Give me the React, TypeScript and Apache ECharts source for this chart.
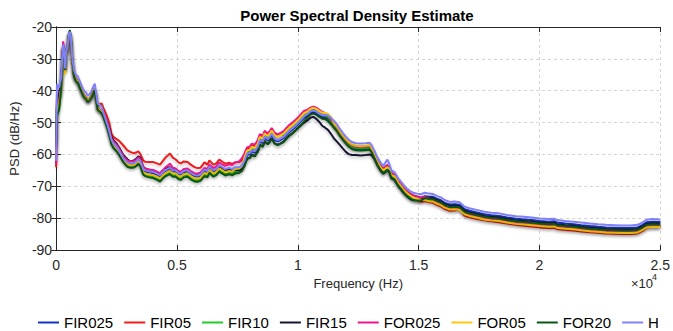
import React, { useEffect, useRef } from "react";
import * as echarts from "echarts";

const FREQ = [
  0, 20, 40, 120, 200, 290, 330, 370, 410, 450, 490, 530, 570, 610, 660,
  740, 820, 900, 980, 1060, 1150, 1230, 1310, 1390, 1470, 1550, 1600, 1640, 1720, 1800, 1880,
  1960, 2050, 2130, 2210, 2290, 2370, 2500, 2620, 2780, 2950, 3070, 3190, 3310, 3400, 3480,
  3600, 3680, 3850, 4010, 4170, 4300, 4420, 4500, 4620, 4710, 4830, 4950, 5070, 5160, 5280, 5440, 5570, 5730, 5850, 5970, 6140, 6260, 6340, 6510, 6630, 6750, 6880, 7000, 7160, 7280, 7410, 7570, 7690,
  7780, 7900, 8020, 8100, 8220, 8350, 8430, 8550, 8630, 8760, 8840, 8920, 9040, 9170, 9290, 9410, 9530, 9660, 9780, 9900, 10030, 10150, 10270,
  10390, 10520, 10640, 10760, 10890, 11010, 11130, 11250, 11380,
  11500, 11620, 11740, 11870, 11990, 12110, 12240, 12400, 12600, 12810, 12970, 13050,
  13180, 13300, 13420, 13540, 13630, 13710, 13790, 13870, 14000, 14080, 14160, 14280, 14400, 14530, 14650, 14770, 14940, 15100,
  15260, 15430, 15590, 15750, 15920, 16080, 16290, 16490, 16700, 16900, 17100, 17390, 17720, 18000, 18330, 18660, 19030, 19360, 19680, 20010, 20380, 20620, 20710, 21070, 21400, 21730, 22100, 22420, 22750, 23120, 23450, 23770, 24060, 24270, 24430, 24680, 25000,
];

const FIR025 = [
  -55, -48, -42, -41, -38, -26, -27.5, -33.5, -28.5, -27.5, -25.5, -22.5, -22, -23.5, -29.5,
  -35, -36.5, -37, -38.5, -40, -41.5, -42, -43, -42.5, -41.5, -40, -39.3, -41.5, -45.5, -46, -46.5,
  -47.8, -49.5, -51.1, -53.3, -55.8, -56.8, -57.9, -59.3, -61.5, -62.8, -63.1, -63.1, -62.6, -61.9, -62.4,
  -64.8, -65.3, -65.6, -65.8, -66.3, -66.8, -65.8, -65.3, -64.8, -64.6, -65.3, -65.3, -66.1, -66.3, -65.5, -65.3, -66.1, -66.8, -66.9, -66.6, -65.1, -65.5, -64.1, -65.3, -64.8, -63.7, -64.3, -64.9, -64.5, -64.9, -64.3, -64.3, -63.8,
  -62.6, -60.2, -59.9, -59, -59.4, -57.9, -55.9, -56.4, -54.8, -55.6, -54.9, -53.9, -55.4, -55.9, -55.4, -54.9, -53.9, -52.9, -52.2, -51.4, -50.4, -49.4, -48.4,
  -47.9, -47, -46.7, -47, -47.7, -48.2, -48.3, -48.8, -49.9,
  -51.2, -52.2, -53.7, -55.1, -56.2, -57.2, -57.9, -58.3, -58.4, -58.3, -58.1, -58.8,
  -61, -63, -64.5, -65.6, -65, -64.6, -65.2, -67, -67.5, -68.5, -69.5, -70.6, -71.8, -72.8, -73.4, -73.8, -73.8, -73.7,
  -73.1, -73.3, -73.3, -73.9, -74.4, -75.2, -75.7, -75.6, -75.8, -77.2, -77.7, -78.2, -78.8, -79.1, -79.3, -79.8, -80.2, -80.4, -80.6, -80.9, -81.1, -81, -81.4, -81.7, -81.9, -82.2, -82.5, -82.7, -82.9, -83, -83.1, -83.1, -82.9, -82.1, -81.3, -81.1, -81.2,
];

const FIR05 = [
  -64, -52, -46, -43, -40, -26.5, -28, -33.5, -28.5, -27.5, -25.5, -22.5, -22, -23.5, -30,
  -34.8, -36.4, -37, -38.5, -40, -41.5, -42, -43, -42.5, -41.5, -40, -39.3, -41, -44.5, -44.2, -44,
  -45.5, -47, -48.5, -50.5, -53.5, -54.5, -55.2, -55.8, -57.2, -58.7, -59.2, -59.6, -59.4, -59, -59.8,
  -61.8, -62.3, -62.4, -62.4, -62.8, -63.2, -62, -61.2, -60.3, -59.7, -61, -61.6, -62.5, -62.8, -62.2, -62.4, -63.2, -64, -64.3, -64.2, -62.5, -63.2, -61.9, -63.2, -62.8, -61.6, -62.3, -62.9, -62.6, -63, -62.5, -62.4, -61.8,
  -60.5, -58.3, -58, -57.2, -57.5, -56, -54.2, -54.6, -53, -53.8, -53.1, -52.1, -53.6, -54.1, -53.6, -53.1, -52.1, -51.1, -50.4, -49.6, -48.6, -47.6, -46.7,
  -46.4, -45.5, -45.2, -45.6, -46.3, -47, -47.4, -48.2, -49.3,
  -50.7, -51.7, -53.2, -54.5, -55.6, -56.6, -57.3, -57.7, -57.8, -57.7, -57.5, -58.2,
  -60.2, -62.2, -63.7, -64.8, -64.2, -63.8, -64.5, -66.3, -66.8, -67.8, -68.8, -69.9, -71.1, -72.1, -72.8, -73.8, -74.4, -74.9,
  -74.6, -75, -75.2, -75.8, -76.3, -77.1, -77.7, -77.6, -77.1, -79.2, -79.7, -80.2, -80.7, -81, -81.3, -81.7, -82.1, -82.4, -82.6, -82.9, -83.1, -83, -83.4, -83.7, -83.9, -84.2, -84.4, -84.6, -84.8, -84.9, -85, -85, -84.8, -84, -83, -82.7, -82.8,
];

const FIR10 = [
  -60, -50, -47.5, -46, -40, -26, -27.5, -33.5, -28.5, -27.5, -25.5, -22, -21.8, -23.5, -29.5,
  -35.2, -36.7, -37.2, -38.7, -40.2, -41.7, -42.2, -43.2, -42.7, -41.7, -40.2, -39.5, -41.7, -45.7, -46.2, -46.7,
  -48, -50, -51.8, -54, -56.5, -57.5, -58.6, -60, -62.2, -63.5, -63.8, -63.8, -63.3, -62.5, -63,
  -66, -66.5, -66.8, -67, -67.5, -68, -67, -66.5, -66, -65.7, -66.5, -66.5, -67.3, -67.5, -66.7, -66.5, -67.3, -68, -68.1, -67.8, -66.3, -66.7, -65.3, -66.5, -66, -64.9, -65.5, -66.1, -65.7, -66.1, -65.5, -65.3, -64.5,
  -62, -59.4, -59.1, -58.2, -58.6, -57.1, -55.1, -55.6, -54, -54.8, -54.1, -53.1, -54.3, -54, -53.4, -54, -53.1, -52.1, -51.4, -50.6, -49.6, -48.6, -47.6,
  -47.1, -46.2, -45.9, -46.2, -46.9, -47.6, -47.8, -48.4, -49.6,
  -51, -52, -53.5, -54.8, -55.9, -56.9, -57.6, -58, -58.1, -58, -57.8, -58.5,
  -60.8, -62.8, -64.3, -65.4, -64.8, -64.4, -65, -66.8, -67.3, -68.3, -69.3, -70.4, -71.6, -72.6, -73.3, -73.8, -74.1, -74.3,
  -73.9, -74.2, -74.3, -74.9, -75.4, -76.2, -76.8, -76.7, -76.9, -78.3, -78.8, -79.3, -79.9, -80.2, -80.4, -80.9, -81.3, -81.5, -81.7, -82, -82.2, -82.1, -82.5, -82.8, -83, -83.3, -83.6, -83.8, -84, -84.1, -84.2, -84.2, -84, -83.2, -82.4, -82.2, -82.3,
];

const FIR15 = [
  -58, -49, -44, -42, -39, -26, -27.5, -33.5, -28.5, -27.5, -25.5, -22.5, -22, -23.5, -29.5,
  -35.3, -36.8, -37.3, -38.8, -40.3, -41.8, -42.3, -43.3, -42.8, -41.8, -40.3, -39.6, -41.8, -45.8, -46.3, -46.8,
  -47.5, -49, -50.3, -52.2, -54.5, -55.5, -56.6, -58, -60.2, -61.5, -62.2, -62, -61.4, -60.6, -61,
  -63.9, -64.4, -64.8, -65, -65.6, -66.1, -65.1, -64.7, -64.2, -64, -64.8, -64.8, -65.6, -65.8, -65.1, -64.9, -65.7, -66.4, -66.5, -66.2, -64.8, -65.2, -63.9, -65.1, -64.7, -63.7, -64.4, -65.1, -64.8, -65.3, -64.8, -65, -64.7,
  -63.6, -61.3, -61, -60.1, -60.5, -59, -57, -57.5, -55.9, -56.7, -56, -55, -56.5, -57, -56.5, -56, -55, -54, -53.3, -52.5, -51.5, -50.8, -50,
  -49.4, -48.5, -48.2, -48.8, -49.8, -51, -51.6, -52.3, -53.6,
  -55, -56, -57, -58.2, -59.2, -59.9, -60.2, -60.2, -60.3, -60.2, -60, -60.2,
  -61.5, -63.5, -65, -66.1, -65.5, -64.9, -65.5, -67.5, -68, -69, -70, -71.1, -72.3, -73.3, -74, -74.4, -74.4, -74.2,
  -73.4, -73.6, -73.7, -74.3, -74.8, -75.6, -76.2, -76.1, -76.3, -77.7, -78.2, -78.7, -79.3, -79.6, -79.8, -80.3, -80.7, -80.9, -81.1, -81.4, -81.6, -81.5, -81.9, -82.2, -82.4, -82.7, -83, -83.2, -83.4, -83.5, -83.6, -83.6, -83.4, -82.6, -81.8, -81.6, -81.7,
];

const FOR025 = [
  -63, -52, -45, -43, -39, -24.5, -26.5, -33.5, -28.5, -27.5, -25.5, -22.5, -22, -23.5, -30,
  -35.1, -36.6, -37.1, -38.6, -40.1, -41.6, -42.1, -43.5, -43, -41.8, -40.1, -39.4, -41.6, -45.6, -46, -46.3,
  -46.8, -48.5, -50.2, -52.4, -54.9, -55.9, -57, -58.4, -60.6, -61.9, -62.2, -62.2, -61.7, -60.9, -61.4,
  -63.9, -64.4, -64.7, -64.9, -65.4, -65.9, -64.9, -64.2, -63.5, -62.9, -64.2, -64.4, -65.2, -65.4, -64.6, -64.4, -65.2, -65.9, -66, -65.7, -64.2, -64.6, -63.2, -64.3, -63.7, -62.6, -63.1, -63.6, -63.1, -63.3, -62.5, -62.2, -61.2,
  -60, -57.8, -57.5, -56.6, -57, -55.5, -53.6, -54.2, -52.6, -53.4, -52.7, -51.7, -53.2, -53.7, -53.2, -52.7, -51.7, -50.7, -50, -49.2, -48.2, -47.2, -46.3,
  -46, -45.3, -45, -45.3, -46, -46.7, -47, -47.6, -49,
  -50.5, -51.5, -53, -54.3, -55.4, -56.4, -57.1, -57.5, -57.6, -57.5, -57.3, -58,
  -59.8, -61.8, -63.3, -64.4, -63.8, -63.3, -64, -65.8, -66.3, -67.3, -68.3, -69.4, -70.6, -71.6, -72.3, -72.8, -73.2, -73.5,
  -73.3, -73.8, -74.1, -74.9, -75.5, -76.3, -77, -76.9, -77.1, -78.5, -79, -79.5, -80.1, -80.4, -80.6, -81.1, -81.5, -81.7, -81.9, -82.2, -82.4, -82.3, -82.7, -83, -83.2, -83.5, -83.8, -84, -84.2, -84.3, -84.4, -84.4, -84.2, -83.4, -82.6, -82.4, -82.5,
];

const FOR05 = [
  -50, -50, -46, -44, -40, -27, -28, -35, -29, -27.5, -25.5, -22.5, -22, -23.5, -30,
  -35.1, -36.6, -37.1, -38.6, -40.1, -41.6, -42.1, -43.1, -42.6, -41.6, -40.1, -39.4, -41.6, -45.6, -46.1, -46.6,
  -47.6, -49.6, -51.4, -53.6, -56.1, -57.1, -58.2, -59.6, -61.8, -63.1, -63.4, -63.4, -62.9, -62.1, -62.6,
  -65.5, -66, -66.3, -66.5, -67, -67.5, -66.5, -66, -65.5, -65.2, -66, -66, -66.8, -67, -66.2, -66, -66.8, -67.5, -67.6, -67.3, -65.8, -66.2, -64.8, -66, -65.5, -64.4, -65, -65.6, -65.2, -65.4, -64.6, -64.4, -63.6,
  -61.2, -58.8, -58.5, -57.6, -58, -56.5, -54.5, -55, -53.4, -54.2, -53.5, -52.5, -54, -54.5, -54, -53.5, -52.5, -51.5, -50.8, -50, -49, -48, -47,
  -46.6, -45.7, -45.4, -45.7, -46.4, -46.9, -47, -47.3, -48.3,
  -50.3, -51.3, -52.8, -54.1, -55.2, -56.2, -56.9, -57.3, -57.4, -57.3, -57.1, -57.8,
  -60.4, -62.4, -63.9, -65, -64.4, -64, -64.6, -66.4, -66.9, -67.9, -68.9, -70, -71.2, -72.2, -72.9, -73.5, -73.9, -74.3,
  -74.3, -74.7, -74.8, -75.4, -75.9, -76.7, -77.3, -77.2, -77.4, -78.8, -79.3, -79.8, -80.4, -80.7, -80.9, -81.4, -81.8, -82, -82.2, -82.5, -82.7, -82.6, -83, -83.3, -83.5, -83.8, -84.1, -84.3, -84.5, -84.6, -84.7, -84.7, -84.5, -83.7, -82.9, -82.7, -82.8,
];

const FOR20 = [
  -57, -48, -47.5, -46, -40, -26, -27.5, -33.5, -28.5, -27.5, -25, -21.8, -21, -23, -29.5,
  -35.5, -37, -37.5, -39, -40.5, -42, -42.5, -43.5, -43, -42, -40.5, -39.8, -42, -46, -46.5, -47,
  -48.3, -50.3, -52.1, -54.3, -56.8, -58, -59, -60.3, -62.4, -63.9, -64.2, -64.2, -63.7, -63, -63.6,
  -66.3, -66.8, -67.2, -67.4, -68, -68.5, -67.5, -67, -66.5, -66.2, -67, -67, -67.8, -68, -67.2, -67, -67.8, -68.5, -68.6, -68.3, -66.8, -67.2, -65.8, -67, -66.5, -65.4, -66, -66.6, -66.2, -66.6, -66, -65.8, -65.2,
  -63.8, -61.4, -61.1, -60.2, -60.6, -59.1, -57.1, -57.6, -56, -56.8, -56.1, -55.1, -56.6, -57.1, -56.6, -56.1, -55.1, -54.1, -53.4, -52.6, -51.6, -50.6, -49.6,
  -48.4, -47.5, -47.2, -47.5, -48.2, -48.8, -48.9, -49.5, -50.6,
  -51.7, -52.7, -54.2, -55.5, -56.6, -57.6, -58.3, -58.7, -58.8, -58.7, -58.5, -59.2,
  -61.3, -63.3, -64.8, -65.9, -65.3, -64.8, -65.4, -67.3, -67.8, -68.8, -69.8, -70.9, -72.1, -73.1, -73.8, -74.3, -74.5, -74.5,
  -73.7, -73.9, -74, -74.6, -75.1, -75.9, -76.5, -76.4, -76.6, -78, -78.5, -79, -79.6, -79.9, -80.1, -80.6, -81, -81.2, -81.4, -81.7, -81.9, -81.8, -82.2, -82.5, -82.7, -83, -83.3, -83.5, -83.7, -83.8, -83.9, -83.9, -83.7, -82.9, -82.1, -81.9, -82,
];

const H = [
  -62, -45, -38, -39, -36, -25.5, -27, -33, -28, -27, -25, -22, -21.5, -23, -29,
  -33.5, -35, -35.5, -37, -38.5, -40, -40.5, -41.5, -41, -40, -38.5, -37.8, -40, -44, -44.5, -45,
  -47, -49, -50.8, -53, -55.5, -56.5, -57.6, -59, -61.2, -62.5, -62.8, -62.8, -62.3, -61.5, -62,
  -64.5, -65, -65.3, -65.5, -66, -66.5, -65.5, -65, -64.5, -64.2, -65, -65, -65.8, -66, -65.2, -65, -65.8, -66.5, -66.6, -66.3, -64.8, -65.2, -63.8, -65, -64.5, -63.4, -64, -64.6, -64.2, -64.6, -64, -64, -63.5,
  -62.2, -59.8, -59.5, -58.6, -59, -57.5, -55.5, -56, -54.4, -55.2, -54.5, -53.5, -55, -55.5, -55, -54.5, -53.5, -52.5, -51.8, -51, -50, -49, -48,
  -47.4, -46.5, -46.2, -46.5, -47.2, -47.7, -47.6, -47.8, -48.6,
  -49.5, -50.5, -52, -53.3, -54.4, -55.4, -56.1, -56.5, -56.6, -56.5, -56.3, -57,
  -59, -61, -62.5, -63.6, -62.5, -61.6, -63, -65, -65.5, -66.5, -67.5, -68.6, -69.8, -70.8, -71.5, -72, -72.3, -72.5,
  -72, -72.3, -72.4, -73, -73.5, -74.3, -74.9, -74.8, -75, -76.4, -76.9, -77.4, -78, -78.3, -78.5, -79, -79.4, -79.6, -79.8, -80.1, -80.3, -80.2, -80.6, -80.9, -81.1, -81.4, -81.7, -81.9, -82.1, -82.2, -82.3, -82.3, -82.1, -81.3, -80.5, -80.3, -80.4,
];

const SERIES_NAMES = ["FIR025", "FIR05", "FIR10", "FIR15", "FOR025", "FOR05", "FOR20", "H"];
const SERIES_VALUES = [FIR025, FIR05, FIR10, FIR15, FOR025, FOR05, FOR20, H];
const SERIES_COLORS = ["#1432c8", "#ee1c1c", "#22cc22", "#141432", "#f0148c", "#ffc80a", "#0a5514", "#8080f8"];

const X_TICKS = [0, 5000, 10000, 15000, 20000, 25000];
const Y_TICKS = [-90, -80, -70, -60, -50, -40, -30, -20];

const FONT = "'Liberation Sans', Arial, Helvetica, sans-serif";
const AXIS_COLOR = "#262626";

export default function App() {
  const ref = useRef<HTMLDivElement>(null);

  useEffect(() => {
    if (!ref.current) return;
    const chart = echarts.init(ref.current, undefined, { renderer: "svg" });

    const series = SERIES_NAMES.map((name, k) => ({
      name,
      type: "line",
      showSymbol: false,
      symbol: "none",
      xAxisIndex: 0,
      yAxisIndex: 0,
      data: FREQ.map((f, i) => [f, SERIES_VALUES[k][i]]).filter((p) => p[1] !== undefined),
      lineStyle: {
        width: 2,
        color: SERIES_COLORS[k],
        shadowColor: "rgba(0,0,0,0.22)",
        shadowBlur: 3,
        shadowOffsetY: 2,
      },
      itemStyle: { color: SERIES_COLORS[k] },
      emphasis: { disabled: true },
    }));

    const baseX = {
      type: "value",
      min: X_TICKS[0],
      max: X_TICKS[X_TICKS.length - 1],
      interval: 5000,
    };
    const baseY = {
      type: "value",
      min: Y_TICKS[0],
      max: Y_TICKS[Y_TICKS.length - 1],
      interval: 10,
    };

    chart.setOption({
      animation: false,
      textStyle: { fontFamily: FONT },
      title: {
        text: "Power Spectral Density Estimate",
        left: 357,
        textAlign: "center",
        top: 8,
        padding: 0,
        textStyle: { fontFamily: FONT, fontSize: 15, fontWeight: "bold", color: "#000" },
      },
      grid: { left: 52, right: 10, top: 27, bottom: 81, containLabel: false },
      legend: {
        data: SERIES_NAMES,
        left: 33,
        top: 310,
        icon: "rect",
        itemWidth: 21,
        itemHeight: 2,
        itemGap: 11,
        textStyle: { fontFamily: FONT, fontSize: 15, color: "#000", padding: [0, 0, 0, 0] },
      },
      xAxis: [
        {
          ...baseX,
          position: "bottom",
          name: "Frequency (Hz)",
          nameLocation: "middle",
          nameGap: 26,
          nameTextStyle: { fontFamily: FONT, fontSize: 13, color: AXIS_COLOR },
          axisLine: { show: true, lineStyle: { color: AXIS_COLOR, width: 1 } },
          axisTick: { show: true, inside: true, length: 5, lineStyle: { color: AXIS_COLOR } },
          axisLabel: {
            margin: 8,
            fontFamily: FONT,
            fontSize: 14,
            color: AXIS_COLOR,
            formatter: (v: number) => String(v / 10000),
          },
          splitLine: { show: true, lineStyle: { color: "#d4d4d4", type: [3, 3], width: 1 } },
        },
        {
          ...baseX,
          position: "top",
          axisLine: { show: true, lineStyle: { color: AXIS_COLOR, width: 1 } },
          axisTick: { show: true, inside: true, length: 5, lineStyle: { color: AXIS_COLOR } },
          axisLabel: { show: false },
          splitLine: { show: false },
        },
      ],
      yAxis: [
        {
          ...baseY,
          position: "left",
          name: "PSD (dB/Hz)",
          nameLocation: "middle",
          nameGap: 31,
          nameTextStyle: { fontFamily: FONT, fontSize: 13, color: AXIS_COLOR },
          axisLine: { show: true, lineStyle: { color: AXIS_COLOR, width: 1 } },
          axisTick: { show: true, inside: true, length: 5, lineStyle: { color: AXIS_COLOR } },
          axisLabel: { margin: 4, fontFamily: FONT, fontSize: 14, color: AXIS_COLOR },
          splitLine: { show: true, lineStyle: { color: "#d4d4d4", type: [3, 3], width: 1 } },
        },
        {
          ...baseY,
          position: "right",
          axisLine: { show: true, lineStyle: { color: AXIS_COLOR, width: 1 } },
          axisTick: { show: true, inside: true, length: 5, lineStyle: { color: AXIS_COLOR } },
          axisLabel: { show: false },
          splitLine: { show: false },
        },
      ],
      graphic: [
        {
          type: "text",
          left: 631,
          top: 277,
          style: { text: "×10", fontFamily: FONT, fontSize: 13, fill: AXIS_COLOR },
        },
        {
          type: "text",
          left: 652,
          top: 272,
          style: { text: "4", fontFamily: FONT, fontSize: 9, fill: AXIS_COLOR },
        },
      ],
      series,
    });

    return () => chart.dispose();
  }, []);

  return (
    <div
      ref={ref}
      style={{ position: "fixed", left: 0, top: 0, width: 673, height: 331, background: "#fff" }}
    />
  );
}
